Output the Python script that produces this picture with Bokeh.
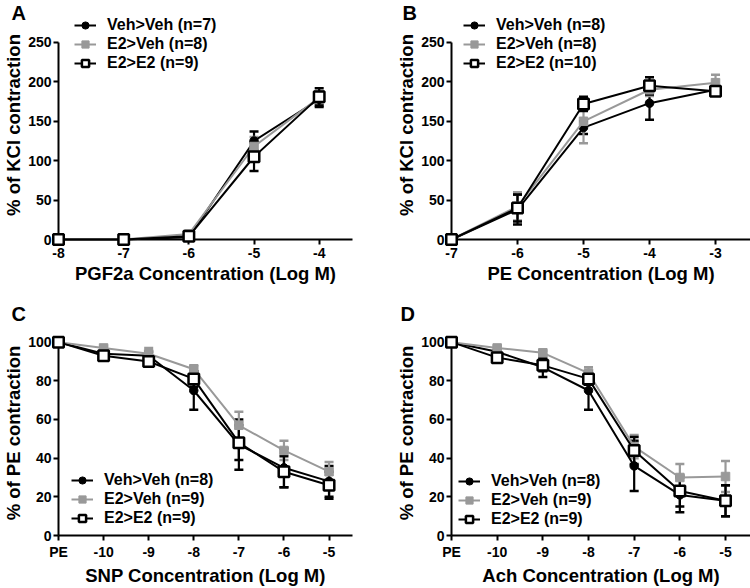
from bokeh.plotting import figure
from bokeh.models import (ColumnDataSource, Whisker, TeeHead, Legend, LegendItem,
                          FixedTicker, Range1d)
from bokeh.core.properties import value
from bokeh.layouts import column, row
from bokeh.embed import file_html
from bokeh.resources import INLINE

FONT = "Liberation Sans"
BLACK = "#000000"
GREY = "#999999"

# ---------------- data ----------------
series_names_A = ["Veh>Veh (n=7)", "E2>Veh (n=8)", "E2>E2 (n=9)"]
series_names_B = ["Veh>Veh (n=8)", "E2>Veh (n=8)", "E2>E2 (n=10)"]
series_names_C = ["Veh>Veh (n=8)", "E2>Veh (n=9)", "E2>E2 (n=9)"]
series_names_D = ["Veh>Veh (n=8)", "E2>Veh (n=9)", "E2>E2 (n=9)"]

A_x = [-8, -7, -6, -5, -4]
A_xlabels = ["-8", "-7", "-6", "-5", "-4"]
A_veh = [0, 0, 3, 125, 178]
A_veh_err = [0, 0, 2, 12, 10]
A_e2veh = [0, 0, 7, 118, 180]
A_e2veh_err = [0, 0, 3, 12, 8]
A_e2e2 = [0, 0, 4, 105, 181]
A_e2e2_err = [0, 0, 3, 18, 11]

B_x = [-7, -6, -5, -4, -3]
B_xlabels = ["-7", "-6", "-5", "-4", "-3"]
B_veh = [0, 38, 142, 173, 190]
B_veh_err = [0, 19, 8, 21, 4]
B_e2veh = [0, 42, 150, 190, 199]
B_e2veh_err = [0, 18, 28, 8, 10]
B_e2e2 = [0, 40, 172, 195, 188]
B_e2e2_err = [0, 17, 9, 11, 4]

KCL_yticks = [0, 50, 100, 150, 200, 250]

C_x = [0, 1, 2, 3, 4, 5, 6]
C_xlabels = ["PE", "-10", "-9", "-8", "-7", "-6", "-5"]
C_veh = [100, 94, 93, 75, 47, 35, 28]
C_veh_err = [0, 1.5, 2, 10, 13, 10, 8]
C_e2veh = [100, 97, 94, 86, 57, 44, 33]
C_e2veh_err = [0, 1, 3, 2, 7, 5, 5]
C_e2e2 = [100, 93, 90, 81, 48, 33, 26]
C_e2e2_err = [0, 2, 2, 4, 9, 8, 7]

D_x = [0, 1, 2, 3, 4, 5, 6]
D_xlabels = ["PE", "-10", "-9", "-8", "-7", "-6", "-5"]
D_veh = [100, 95, 87, 75, 36, 21, 18]
D_veh_err = [0, 1, 5, 10, 13, 9, 8]
D_e2veh = [100, 97, 94.5, 84, 46, 30, 30.5]
D_e2veh_err = [0, 1, 1, 3, 6, 7, 8]
D_e2e2 = [100, 92, 88, 81, 44, 23, 18]
D_e2e2_err = [0, 1.5, 3, 3, 7, 8, 8]

PE_yticks = [0, 20, 40, 60, 80, 100]

STYLES = [
    dict(color=BLACK, marker="circle", fill=BLACK, size=8.5, mlw=1),
    dict(color=GREY, marker="square", fill=GREY, size=8.5, mlw=1),
    dict(color=BLACK, marker="square", fill="#ffffff", size=10.5, mlw=2.5),
]


def make_panel(letter, xs, xlabels, ys, errs, names, yticks, ylabel, xlabel,
               width, height, borders, xr, yr, ybounds, legend_loc, letter_off):
    p = figure(width=width, height=height, output_backend="svg",
               toolbar_location=None, x_range=Range1d(*xr), y_range=Range1d(*yr),
               min_border_left=borders[0], min_border_right=borders[1],
               min_border_top=borders[2], min_border_bottom=borders[3])
    p.title.visible = False
    p.outline_line_color = None
    p.xgrid.visible = False
    p.ygrid.visible = False
    p.background_fill_color = None
    p.border_fill_color = None

    for ax in (p.xaxis[0], p.yaxis[0]):
        ax.axis_line_width = 2
        ax.axis_line_color = BLACK
        ax.major_tick_line_width = 2
        ax.major_tick_line_color = BLACK
        ax.major_tick_out = 5
        ax.major_tick_in = 0
        ax.minor_tick_line_color = None
        ax.major_label_text_font = FONT
        ax.major_label_text_font_style = "bold"
        ax.major_label_text_font_size = "14px"
        ax.major_label_text_color = BLACK
        ax.axis_label_text_font = FONT
        ax.axis_label_text_font_style = "bold"
        ax.axis_label_text_font_size = "18.5px"
        ax.axis_label_text_color = BLACK

    xa = p.xaxis[0]
    xa.ticker = FixedTicker(ticks=xs)
    xa.major_label_overrides = {x: lab for x, lab in zip(xs, xlabels)}
    xa.axis_label = xlabel
    xa.major_label_standoff = 3
    xa.axis_label_standoff = 2

    ya = p.yaxis[0]
    ya.ticker = FixedTicker(ticks=yticks)
    ya.bounds = ybounds
    ya.axis_label = ylabel
    ya.major_label_standoff = 2
    ya.axis_label_standoff = 1

    # error bars
    for y, e, st in zip(ys, errs, STYLES):
        bx = [x for x, ee in zip(xs, e) if ee > 0]
        up = [yy + ee for yy, ee in zip(y, e) if ee > 0]
        lo = [yy - ee for yy, ee in zip(y, e) if ee > 0]
        src = ColumnDataSource(dict(base=bx, upper=up, lower=lo))
        w = Whisker(source=src, base="base", upper="upper", lower="lower",
                    line_color=st["color"], line_width=2.2,
                    upper_head=TeeHead(size=9, line_color=st["color"], line_width=2.5),
                    lower_head=TeeHead(size=9, line_color=st["color"], line_width=2.5))
        p.add_layout(w)

    items = []
    for y, name, st in zip(ys, names, STYLES):
        src = ColumnDataSource(dict(x=xs, y=y))
        lr = p.line("x", "y", source=src, line_color=st["color"], line_width=2,
                    level="overlay")
        sr = p.scatter("x", "y", source=src, marker=st["marker"], size=st["size"],
                       fill_color=st["fill"], line_color=st["color"],
                       line_width=st["mlw"], level="overlay")
        items.append(LegendItem(label=name, renderers=[lr, sr]))

    leg = Legend(items=items, location=legend_loc, glyph_width=22, glyph_height=18,
                 label_height=18, label_standoff=11, spacing=1, padding=0, margin=0,
                 border_line_color=None, background_fill_alpha=0,
                 label_text_font=FONT, label_text_font_style="bold",
                 label_text_font_size="16px", label_text_color=BLACK)
    p.add_layout(leg)

    p.text(x=[xr[0]], y=[yr[1]], text=[letter], x_offset=letter_off[0],
           y_offset=letter_off[1], text_font=value(FONT), text_font_style="bold",
           text_font_size="20px", text_baseline="top", text_align="left",
           text_color=BLACK, level="overlay")
    return p


pA = make_panel("A", A_x, A_xlabels, [A_veh, A_e2veh, A_e2e2],
                [A_veh_err, A_e2veh_err, A_e2e2_err], series_names_A, KCL_yticks,
                "% of KCl contraction", "PGF2a Concentration (Log M)",
                390, 288, (52, 38, 10, 49), (-8, -3.489), (0, 290.6), (0, 250),
                (16, 167), (-47, -9))

pB = make_panel("B", B_x, B_xlabels, [B_veh, B_e2veh, B_e2e2],
                [B_veh_err, B_e2veh_err, B_e2e2_err], series_names_B, KCL_yticks,
                "% of KCl contraction", "PE Concentration (Log M)",
                360, 288, (61, 0, 10, 49), (-7, -2.47), (0, 290.6), (0, 250),
                (12, 167), (-49, -9))

pC = make_panel("C", C_x, C_xlabels, [C_veh, C_e2veh, C_e2e2],
                [C_veh_err, C_e2veh_err, C_e2e2_err], series_names_C, PE_yticks,
                "% of PE contraction", "SNP Concentration (Log M)",
                390, 300, (52, 38, 42, 47), (0, 6.52), (0, 106.03), (0, 100),
                (13, 8), (-47, -28))

pD = make_panel("D", D_x, D_xlabels, [D_veh, D_e2veh, D_e2e2],
                [D_veh_err, D_e2veh_err, D_e2e2_err], series_names_D, PE_yticks,
                "% of PE contraction", "Ach Concentration (Log M)",
                360, 300, (61, 0, 42, 47), (0, 6.547), (0, 106.03), (0, 100),
                (7, 7), (-51, -28))

layout = column(row(pA, pB), row(pC, pD))
open("out.html", "w").write(file_html(layout, INLINE))
